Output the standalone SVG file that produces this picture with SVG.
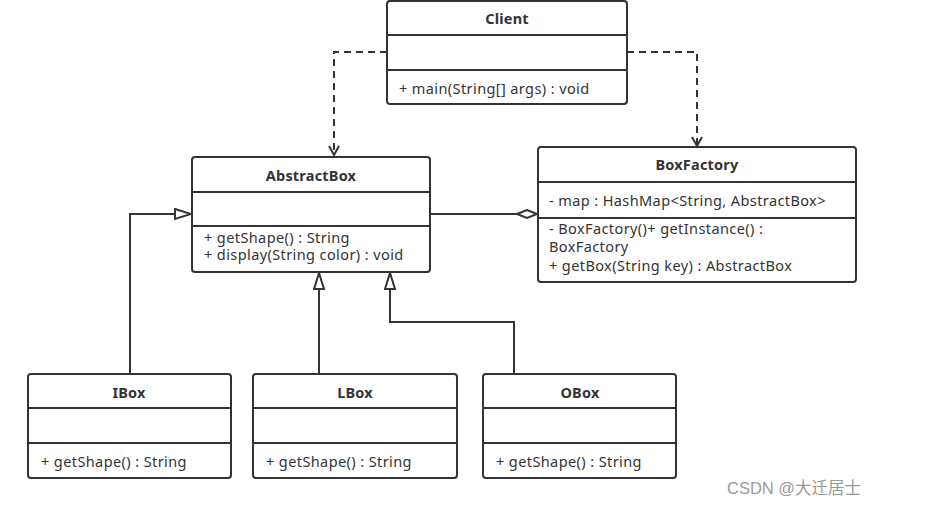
<svg xmlns="http://www.w3.org/2000/svg" width="948" height="505" viewBox="0 0 948 505">
<style>
.box{fill:#fff;stroke:#333;stroke-width:2}
.div{stroke:#333;stroke-width:2}
.t{font-family:"Noto Sans","Open Sans","Liberation Sans",sans-serif;font-size:14.5px;letter-spacing:0.4px;fill:#333}
.h{font-weight:bold;text-anchor:middle;letter-spacing:0.2px}
.ln{fill:none;stroke:#333;stroke-width:2}
.dash{stroke-dasharray:7,5}
.wm{font-family:"Liberation Sans","Noto Sans CJK SC",sans-serif;font-size:16.5px;fill:#999}
</style>
<defs>
<marker id="open" markerWidth="14" markerHeight="14" refX="10" refY="6" orient="auto" markerUnits="userSpaceOnUse">
<path d="M1,1 L10,6 L1,11" fill="none" stroke="#333" stroke-width="2"/>
</marker>
<marker id="tri" markerWidth="20" markerHeight="14" refX="17" refY="6" orient="auto" markerUnits="userSpaceOnUse">
<path d="M1,1 L17,6 L1,11 Z" fill="#fff" stroke="#333" stroke-width="2"/>
</marker>
<marker id="dia" markerWidth="24" markerHeight="12" refX="21" refY="5" orient="auto" markerUnits="userSpaceOnUse">
<path d="M1,5 L11,1 L21,5 L11,9 Z" fill="#fff" stroke="#333" stroke-width="2"/>
</marker>
</defs>
<rect width="948" height="505" fill="#fff"/>
<g id="connectors">
<path class="ln dash" d="M387,52 H334 V155" marker-end="url(#open)"/>
<path class="ln dash" d="M627,52 H697 V146" marker-end="url(#open)"/>
<path class="ln" d="M431,214 H537" marker-end="url(#dia)"/>
<path class="ln" d="M130,374 V214 H191" marker-end="url(#tri)"/>
<path class="ln" d="M319,374 V273" marker-end="url(#tri)"/>
<path class="ln" d="M514,374 V322 H390 V273" marker-end="url(#tri)"/>
</g>
<g id="Client">
<rect class="box" x="387" y="1" width="240" height="103" rx="3"/>
<line class="div" x1="387" y1="35" x2="627" y2="35"/>
<line class="div" x1="387" y1="70" x2="627" y2="70"/>
<text class="t h" x="507" y="24">Client</text>
<text class="t" x="399" y="94">+ main(String[] args) : void</text>
</g>
<g id="AbstractBox">
<rect class="box" x="192" y="157" width="238" height="115" rx="3"/>
<line class="div" x1="192" y1="192" x2="430" y2="192"/>
<line class="div" x1="192" y1="226" x2="430" y2="226"/>
<text class="t h" x="311" y="181">AbstractBox</text>
<text class="t" x="204" y="243">+ getShape() : String</text>
<text class="t" x="204" y="260">+ display(String color) : void</text>
</g>
<g id="BoxFactory">
<rect class="box" x="538" y="147" width="318" height="135" rx="3"/>
<line class="div" x1="538" y1="182" x2="856" y2="182"/>
<line class="div" x1="538" y1="218" x2="856" y2="218"/>
<text class="t h" x="697" y="170">BoxFactory</text>
<text class="t" x="549" y="206">- map : HashMap&lt;String, AbstractBox&gt;</text>
<text class="t" x="549" y="234">- BoxFactory()+ getInstance() :</text>
<text class="t" x="549" y="252">BoxFactory</text>
<text class="t" x="549" y="271">+ getBox(String key) : AbstractBox</text>
</g>
<g id="IBox">
<rect class="box" x="28" y="374" width="203" height="104" rx="3"/>
<line class="div" x1="28" y1="408" x2="231" y2="408"/>
<line class="div" x1="28" y1="443" x2="231" y2="443"/>
<text class="t h" x="129" y="398">IBox</text>
<text class="t" x="41" y="467">+ getShape() : String</text>
</g>
<g id="LBox">
<rect class="box" x="253" y="374" width="204" height="104" rx="3"/>
<line class="div" x1="253" y1="408" x2="457" y2="408"/>
<line class="div" x1="253" y1="443" x2="457" y2="443"/>
<text class="t h" x="355" y="398">LBox</text>
<text class="t" x="266" y="467">+ getShape() : String</text>
</g>
<g id="OBox">
<rect class="box" x="483" y="374" width="193" height="104" rx="3"/>
<line class="div" x1="483" y1="408" x2="676" y2="408"/>
<line class="div" x1="483" y1="443" x2="676" y2="443"/>
<text class="t h" x="580" y="398">OBox</text>
<text class="t" x="496" y="467">+ getShape() : String</text>
</g>
<text class="wm" x="727" y="494">CSDN @大迁居士</text>
</svg>
